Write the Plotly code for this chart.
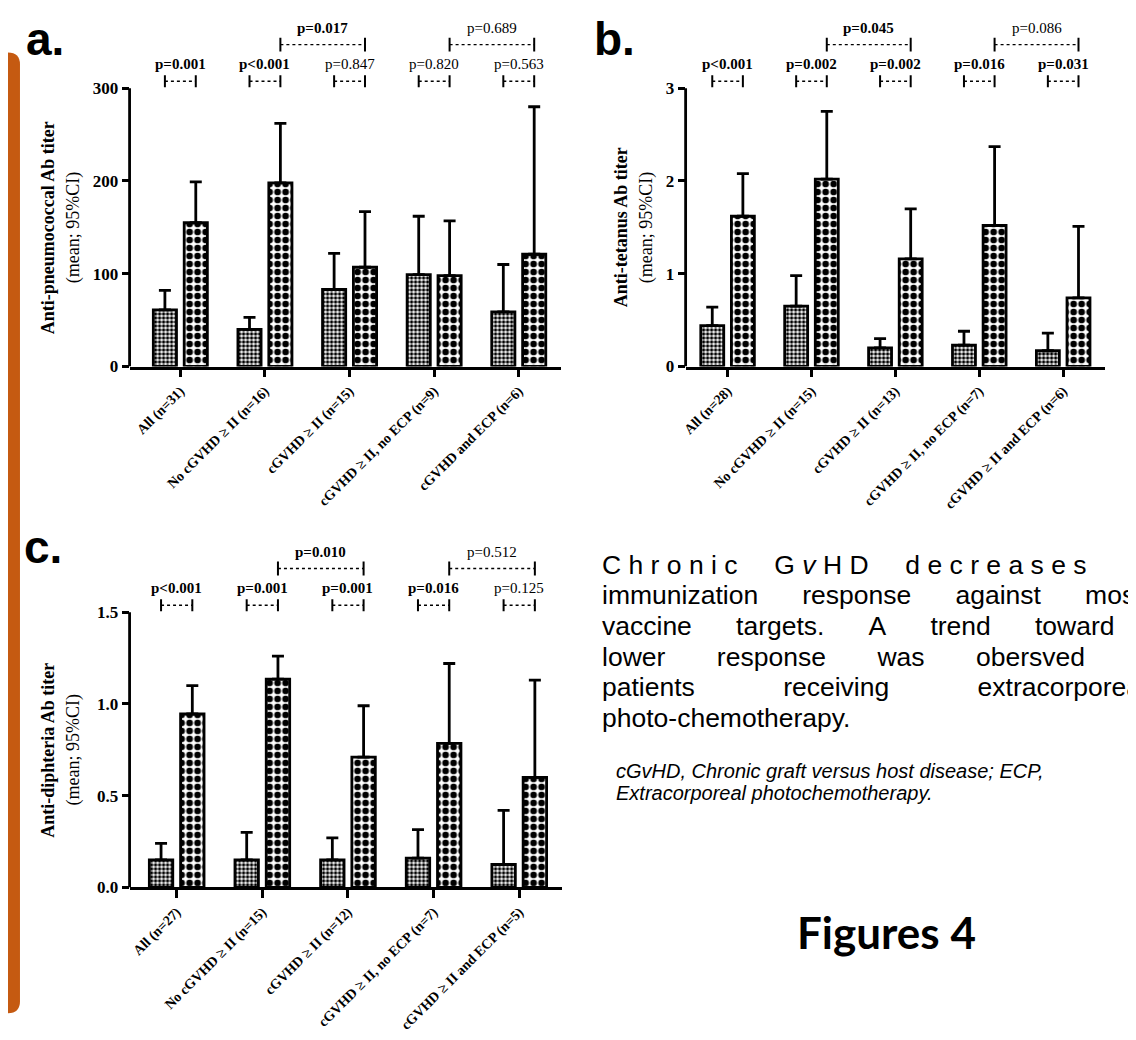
import plotly.graph_objects as go

W, H = 1136, 1040

# ---------------- data ----------------
labels_a = ["All (n=31)", "No cGVHD ≥ II (n=16)", "cGVHD ≥ II (n=15)",
            "cGVHD ≥ II, no ECP (n=9)", "cGVHD and ECP (n=6)"]
pre_a = [61, 40, 83, 99, 59]
pre_a_hi = [82, 53, 122, 162, 110]
post_a = [155, 198, 107, 98, 121]
post_a_hi = [199, 262, 167, 157, 280]
p_pair_a = ["p=0.001", "p<0.001", "p=0.847", "p=0.820", "p=0.563"]
p_between_a = ["p=0.017", "p=0.689"]
yticks_a = [0, 100, 200, 300]

labels_b = ["All (n=28)", "No cGVHD ≥ II (n=15)", "cGVHD ≥ II (n=13)",
            "cGVHD ≥ II, no ECP (n=7)", "cGVHD ≥ II and ECP (n=6)"]
pre_b = [0.44, 0.65, 0.20, 0.23, 0.17]
pre_b_hi = [0.64, 0.98, 0.30, 0.38, 0.36]
post_b = [1.62, 2.02, 1.16, 1.52, 0.74]
post_b_hi = [2.08, 2.75, 1.70, 2.37, 1.51]
p_pair_b = ["p<0.001", "p=0.002", "p=0.002", "p=0.016", "p=0.031"]
p_between_b = ["p=0.045", "p=0.086"]
yticks_b = [0, 1, 2, 3]

labels_c = ["All (n=27)", "No cGVHD ≥ II (n=15)", "cGVHD ≥ II (n=12)",
            "cGVHD ≥ II, no ECP (n=7)", "cGVHD ≥ II and ECP (n=5)"]
pre_c = [0.15, 0.15, 0.15, 0.16, 0.125]
pre_c_hi = [0.24, 0.30, 0.27, 0.315, 0.42]
post_c = [0.945, 1.135, 0.71, 0.785, 0.60]
post_c_hi = [1.10, 1.26, 0.99, 1.22, 1.13]
p_pair_c = ["p<0.001", "p=0.001", "p=0.001", "p=0.016", "p=0.125"]
p_between_c = ["p=0.010", "p=0.512"]
yticks_c = [0.0, 0.5, 1.0, 1.5]

between_pairs = [(1, 2), (3, 4)]

titles = {
    "a": "Anti-pneumococcal Ab titer",
    "b": "Anti-tetanus Ab titer",
    "c": "Anti-diphteria Ab titer",
}

# ---------------- style / layout (pixels) ----------------
BARGAP = 0.27
BARGROUPGAP = 0.25
OFF = (1 - BARGAP) / 4
SERIF = "Liberation Serif"
SANS = "Liberation Sans"

panels = [
    dict(key="a", ax="", x0=118, x1=551, xr=(-0.6, 4.5), yzero=362, ytop=81, ytopend=4,
         title_x=36, sub_x=62,
         labels=labels_a, pre=pre_a, pre_hi=pre_a_hi, post=post_a, post_hi=post_a_hi,
         p_pair=p_pair_a, p_between=p_between_a, yticks=yticks_a, fmt=""),
    dict(key="b", ax="2", x0=676, x1=1097, xr=(-0.5, 4.5), yzero=362, ytop=81, ytopend=4,
         title_x=612, sub_x=637,
         labels=labels_b, pre=pre_b, pre_hi=pre_b_hi, post=post_b, post_hi=post_b_hi,
         p_pair=p_pair_b, p_between=p_between_b, yticks=yticks_b, fmt=""),
    dict(key="c", ax="3", x0=118, x1=552, xr=(-0.55, 4.5), yzero=888, ytop=610, ytopend=532,
         title_x=36, sub_x=62,
         labels=labels_c, pre=pre_c, pre_hi=pre_c_hi, post=post_c, post_hi=post_c_hi,
         p_pair=p_pair_c, p_between=p_between_c, yticks=yticks_c, fmt=".1f"),
]

fig = go.Figure()
shapes = []
annotations = []
layout = {}


def pval_num(s):
    return float(s.replace("<", "=").split("=")[-1])


def ptext(s):
    return "<b>%s</b>" % s if pval_num(s) < 0.05 else s


for p in panels:
    ax = p["ax"]
    xa, ya = "x" + ax, "y" + ax
    idx = list(range(len(p["labels"])))
    ymax = p["yticks"][-1]
    upp = ymax / (p["yzero"] - p["ytop"])          # data units per pixel
    yrange_top = (p["yzero"] - p["ytopend"]) * upp

    common_line = dict(color="black", width=2.8)
    fig.add_trace(go.Bar(
        x=idx, y=p["pre"], xaxis=xa, yaxis=ya, showlegend=False, name="Pre",
        marker=dict(color="white", line=common_line,
                    pattern=dict(shape=".", fgcolor="black", bgcolor="white",
                                 size=4, solidity=0.55, fillmode="replace")),
        error_y=dict(type="data", symmetric=False,
                     array=[h - m for h, m in zip(p["pre_hi"], p["pre"])],
                     arrayminus=[0] * len(idx), color="black", thickness=2.8, width=6),
    ))
    fig.add_trace(go.Bar(
        x=idx, y=p["post"], xaxis=xa, yaxis=ya, showlegend=False, name="Post",
        marker=dict(color="white", line=common_line,
                    pattern=dict(shape=".", fgcolor="black", bgcolor="white",
                                 size=8, solidity=0.55, fillmode="replace")),
        error_y=dict(type="data", symmetric=False,
                     array=[h - m for h, m in zip(p["post_hi"], p["post"])],
                     arrayminus=[0] * len(idx), color="black", thickness=2.8, width=6),
    ))

    xname = "xaxis" + ax
    yname = "yaxis" + ax
    layout[xname] = dict(
        domain=[p["x0"] / W, p["x1"] / W], range=list(p["xr"]), anchor=ya,
        showline=True, linecolor="black", linewidth=2.8, ticks="outside",
        ticklen=8, tickwidth=2.8, tickcolor="black", tickvals=idx,
        ticktext=p["labels"], tickangle=-45, showgrid=False, zeroline=False,
        tickfont=dict(family=SERIF, size=14, color="black", weight="bold"),
    )
    layout[yname] = dict(
        domain=[1 - p["yzero"] / H, 1 - p["ytopend"] / H], range=[0, yrange_top], anchor=xa,
        showline=False, ticks="outside", ticklen=7, tickwidth=2.8, tickcolor="black",
        tickvals=p["yticks"], tickformat=p["fmt"], showgrid=False, zeroline=False,
        tickfont=dict(family=SERIF, size=17, color="black", weight="bold"),
    )
    # vertical axis line from 0 to top tick
    shapes.append(dict(type="line", xref="paper", yref=ya, x0=p["x0"] / W, x1=p["x0"] / W,
                       y0=0, y1=ymax, line=dict(color="black", width=2.8)))

    # p-value brackets
    yb = ymax + 7 * upp
    tick_h = 6 * upp
    yt = ymax + 24 * upp
    for i, s in zip(idx, p["p_pair"]):
        xl, xr_ = i - OFF, i + OFF
        shapes.append(dict(type="line", xref=xa, yref=ya, x0=xl, x1=xr_, y0=yb, y1=yb,
                           line=dict(color="black", width=1.4, dash="dot")))
        for xx in (xl, xr_):
            shapes.append(dict(type="line", xref=xa, yref=ya, x0=xx, x1=xx,
                               y0=yb - tick_h, y1=yb + tick_h,
                               line=dict(color="black", width=2)))
        annotations.append(dict(xref=xa, yref=ya, x=i, y=yt, text=ptext(s), showarrow=False,
                                font=dict(family=SERIF, size=15, color="black"),
                                xanchor="center", yanchor="middle"))
    ylb = ymax + 44 * upp
    ylt = ymax + 61 * upp
    for (a, b), s in zip(between_pairs, p["p_between"]):
        xl, xr_ = a + OFF, b + OFF
        shapes.append(dict(type="line", xref=xa, yref=ya, x0=xl, x1=xr_, y0=ylb, y1=ylb,
                           line=dict(color="black", width=1.4, dash="dot")))
        for xx in (xl, xr_):
            shapes.append(dict(type="line", xref=xa, yref=ya, x0=xx, x1=xx,
                               y0=ylb - 7 * upp, y1=ylb + 7 * upp,
                               line=dict(color="black", width=2)))
        annotations.append(dict(xref=xa, yref=ya, x=(a + b) / 2 + OFF, y=ylt, text=ptext(s),
                                showarrow=False,
                                font=dict(family=SERIF, size=15, color="black"),
                                xanchor="center", yanchor="middle"))

    # y-axis titles
    ymid = 1 - ((p["yzero"] + p["ytop"]) / 2) / H
    annotations.append(dict(xref="paper", yref="paper", x=p["title_x"] / W, y=ymid,
                            text="<b>%s</b>" % titles[p["key"]], textangle=-90,
                            showarrow=False, xanchor="center", yanchor="middle",
                            font=dict(family=SERIF, size=18, color="black")))
    annotations.append(dict(xref="paper", yref="paper", x=p["sub_x"] / W, y=ymid,
                            text="(mean; 95%CI)", textangle=-90,
                            showarrow=False, xanchor="center", yanchor="middle",
                            font=dict(family=SERIF, size=18, color="black")))

# panel letters
for letter, lx, ly in [("a.", 12, 60), ("b.", 582, 60), ("c.", 10, 572)]:
    annotations.append(dict(xref="paper", yref="paper", x=lx / W, y=1 - ly / H,
                            text="<b>%s</b>" % letter, showarrow=False,
                            xanchor="left", yanchor="bottom",
                            font=dict(family=SANS, size=46, color="black")))

# descriptive text (justified look emulated with non-breaking spaces)
NB = "\u00a0"
line1 = (NB.join("Chronic") + NB * 5 + "G" + NB + "<i>v</i>" + NB + "H" + NB + "D"
         + NB * 5 + NB.join("decreases"))
text_lines = [
    line1,
    (NB * 6).join(["immunization", "response", "against", "most"]),
    (NB * 6).join(["vaccine", "targets.", "A", "trend", "toward", "a"]),
    (NB * 7).join(["lower", "response", "was", "obersved", "in"]),
    (NB * 12).join(["patients", "receiving", "extracorporeal"]),
    "photo-chemotherapy.",
]
for k, t in enumerate(text_lines):
    annotations.append(dict(xref="paper", yref="paper", x=590 / W, y=1 - (562 + 31 * k) / H,
                            text=t, showarrow=False, xanchor="left", yanchor="middle",
                            font=dict(family=SANS, size=26.5, color="black")))

foot = ["<i>cGvHD, Chronic graft versus host disease; ECP,</i>",
        "<i>Extracorporeal photochemotherapy.</i>"]
for k, t in enumerate(foot):
    annotations.append(dict(xref="paper", yref="paper", x=604 / W, y=1 - (770 + 23 * k) / H,
                            text=t, showarrow=False, xanchor="left", yanchor="middle",
                            font=dict(family=SANS, size=20, color="black")))

annotations.append(dict(xref="paper", yref="paper", x=878 / W, y=1 - 933 / H,
                        text="<b>Figures 4</b>", showarrow=False, xanchor="center",
                        yanchor="middle", font=dict(family="Lato", size=44, color="black")))


# orange frame edge on the left
def px(x):
    return x / W


def py(y):
    return 1 - y / H


r = 12
x_l, x_r, y_t, y_b = -30, 8, 45, 1015
path = ("M %f,%f L %f,%f Q %f,%f %f,%f L %f,%f Q %f,%f %f,%f L %f,%f Z" % (
    px(x_l), py(y_t), px(x_r - r), py(y_t), px(x_r), py(y_t), px(x_r), py(y_t + r),
    px(x_r), py(y_b - r), px(x_r), py(y_b), px(x_r - r), py(y_b), px(x_l), py(y_b)))
shapes.append(dict(type="path", xref="paper", yref="paper", path=path,
                   fillcolor="#C55A11", line=dict(width=0)))

fig.update_layout(
    width=W, height=H, margin=dict(l=0, r=0, t=0, b=0),
    paper_bgcolor="white", plot_bgcolor="white",
    barmode="group", bargap=BARGAP, bargroupgap=BARGROUPGAP,
    shapes=shapes, annotations=annotations, showlegend=False,
    **layout,
)

fig.write_html("out.html")
